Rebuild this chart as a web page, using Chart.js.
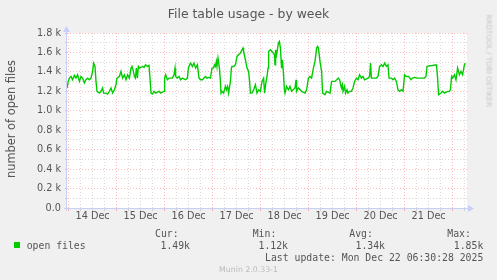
<!DOCTYPE html>
<html lang="en">
  <head>
    <meta charset="UTF-8" />
    <title>File table usage - by week</title>
    <script src="https://cdn.jsdelivr.net/npm/chart.js"></script>
    <style>
      body {
        margin: 0;
        background: #f0f0f0;
        font-family: "DejaVu Sans", sans-serif;
        color: #555;
      }
      .wrap {
        position: relative;
        width: 497px;
        height: 280px;
        overflow: hidden;
      }
      canvas {
        position: absolute;
        left: 0;
        top: 0;
      }
      .txt {
        position: absolute;
        white-space: pre;
      }
      .title {
        left: 0;
        width: 497px;
        top: 5.5px;
        text-align: center;
        font-size: 12.4px;
        line-height: 15px;
      }
      .ytitle {
        left: -48px;
        top: 112px;
        width: 118px;
        text-align: center;
        font-size: 11.4px;
        line-height: 14px;
        transform: rotate(-90deg);
      }
      .rrd {
        left: 443px;
        top: 56px;
        width: 92px;
        text-align: center;
        font-size: 7.2px;
        line-height: 9px;
        color: #c4c4c4;
        transform: rotate(90deg);
      }
      .mono {
        font-family: "DejaVu Sans Mono", monospace;
        font-size: 9.8px;
        line-height: 12px;
      }
      .val {
        width: 60px;
        text-align: right;
      }
      .swatch {
        position: absolute;
        left: 14px;
        top: 241.5px;
        width: 6px;
        height: 6px;
        background: #00cc00;
      }
      .munin {
        left: 0;
        width: 497px;
        top: 265px;
        text-align: center;
        font-size: 7.8px;
        line-height: 10px;
        color: #bbb;
      }
    </style>
  </head>
  <body>
    <div class="wrap">
      <canvas id="chart" width="497" height="280"></canvas>
      <div class="txt title">File table usage - by week</div>
      <div class="txt ytitle">number of open files</div>
      <div class="txt rrd">RRDTOOL / TOBI OETIKER</div>

      <div class="txt mono" style="left: 155px; top: 228px">Cur:</div>
      <div class="txt mono" style="left: 252.7px; top: 228px">Min:</div>
      <div class="txt mono" style="left: 349.3px; top: 228px">Avg:</div>
      <div class="txt mono" style="left: 447.3px; top: 228px">Max:</div>

      <div class="swatch"></div>
      <div class="txt mono" style="left: 26.7px; top: 239.6px">open files</div>
      <div class="txt mono val" style="left: 130px; top: 239.6px">1.49k</div>
      <div class="txt mono val" style="left: 228px; top: 239.6px">1.12k</div>
      <div class="txt mono val" style="left: 325px; top: 239.6px">1.34k</div>
      <div class="txt mono val" style="left: 423.3px; top: 239.6px">1.85k</div>

      <div class="txt mono" style="right: 13.7px; top: 252.1px">Last update: Mon Dec 22 06:30:28 2025</div>
      <div class="txt munin">Munin 2.0.33-1</div>
    </div>

    <script>
      // hours since 14 Dec 00:00
      const hours = [
        -0.8, -0.2, 0.4, 1.2, 2.0, 2.9, 3.7, 4.5, 5.4, 6.2, 7.0, 7.9, 8.7, 9.5,
        10.4, 11.2, 12.0, 12.5, 13.2, 13.7, 14.2, 15.4, 16.2, 17.0, 17.5, 18.7,
        19.5, 20.4, 21.2, 22.0, 22.9, 23.7, 24.2, 25.4, 26.2, 27.0, 27.9, 28.7,
        29.5, 30.4, 31.2, 31.7, 32.4, 32.9, 33.4, 33.9, 34.4, 34.9, 35.5, 36.9,
        37.7, 38.5, 39.4, 40.2, 40.7, 41.2, 41.9, 42.7, 43.5, 45.2, 46.0, 46.9,
        47.7, 48.0, 48.5, 49.4, 50.2, 51.9, 52.7, 53.2, 53.5, 54.4, 55.2, 56.0,
        56.9, 58.5, 59.4, 59.9, 60.5, 61.0, 61.9, 62.7, 63.5, 64.4, 65.2, 66.0,
        66.9, 68.4, 69.2, 70.0, 70.9, 71.7, 72.5, 72.9, 73.4, 73.9, 74.2, 74.7,
        75.4, 75.9, 76.2, 76.7, 77.5, 78.4, 78.9, 79.5, 80.0, 80.9, 81.4, 81.7,
        82.5, 83.4, 84.2, 85.0, 85.9, 86.7, 87.2, 87.5, 88.4, 89.2, 90.0, 90.5,
        90.9, 91.7, 92.5, 93.4, 94.2, 95.0, 95.9, 96.7, 97.5, 98.0, 98.5, 99.2,
        99.7, 100.0, 100.9, 101.7, 102.4, 102.9, 103.2, 103.5, 104.0, 104.9,
        105.4, 105.9, 106.5, 106.9, 107.4, 107.9, 108.2, 109.0, 109.9, 110.7,
        111.5, 113.2, 113.7, 114.0, 114.9, 116.5, 118.2, 119.0, 119.9, 120.7,
        121.5, 122.4, 123.2, 124.0, 124.5, 124.9, 125.7, 126.5, 127.0, 128.2,
        129.0, 130.7, 131.5, 133.2, 134.9, 135.5, 136.4, 136.9, 137.2, 138.0,
        138.5, 139.2, 139.7, 140.5, 141.4, 142.2, 143.0, 143.9, 144.7, 145.5,
        146.4, 147.2, 148.0, 149.7, 150.5, 151.0, 151.4, 152.2, 153.9, 154.7,
        155.5, 156.4, 157.2, 158.0, 158.9, 159.7, 160.2, 161.4, 162.2, 163.0,
        163.9, 164.7, 165.5, 166.4, 167.2, 168.0, 168.9, 170.0, 171.2, 172.0,
        172.9, 174.5, 176.2, 177.9, 178.7, 179.2, 180.4, 182.0, 183.7, 184.0,
        184.5, 185.0, 186.2, 187.0, 187.9, 189.5, 190.4, 190.9, 191.5, 192.0,
        192.9, 193.7, 194.5, 195.4, 196.2, 197.0, 197.9, 198.4,
      ];
      const openFiles = [
        1233, 1300, 1336, 1353, 1319, 1364, 1336, 1370, 1302, 1353, 1336, 1285,
        1319, 1336, 1319, 1336, 1405, 1490, 1456, 1302, 1200, 1182, 1200, 1234,
        1182, 1182, 1172, 1200, 1234, 1182, 1216, 1268, 1336, 1353, 1405, 1336,
        1370, 1319, 1370, 1336, 1439, 1456, 1405, 1353, 1336, 1440, 1336, 1456,
        1439, 1456, 1446, 1473, 1456, 1466, 1336, 1182, 1172, 1200, 1182, 1200,
        1182, 1192, 1200, 1336, 1370, 1319, 1336, 1336, 1370, 1439, 1353, 1336,
        1353, 1319, 1336, 1319, 1336, 1439, 1473, 1490, 1456, 1490, 1439, 1473,
        1336, 1319, 1319, 1353, 1336, 1343, 1336, 1439, 1439, 1473, 1456, 1508,
        1456, 1542, 1439, 1302, 1182, 1200, 1182, 1251, 1216, 1251, 1182, 1302,
        1439, 1456, 1456, 1473, 1559, 1576, 1593, 1627, 1645, 1610, 1525, 1439,
        1405, 1302, 1182, 1182, 1216, 1268, 1182, 1216, 1200, 1302, 1336, 1182,
        1268, 1353, 1439, 1610, 1627, 1610, 1593, 1576, 1473, 1627, 1576, 1696,
        1713, 1645, 1439, 1525, 1388, 1216, 1182, 1251, 1216, 1251, 1200, 1234,
        1319, 1200, 1234, 1200, 1182, 1216, 1336, 1353, 1336, 1439, 1508, 1645,
        1662, 1645, 1508, 1405, 1182, 1165, 1200, 1182, 1302, 1302, 1336, 1319,
        1234, 1268, 1200, 1251, 1182, 1216, 1182, 1200, 1200, 1234, 1302, 1336,
        1319, 1370, 1336, 1353, 1319, 1336, 1353, 1490, 1336, 1336, 1336, 1353,
        1456, 1473, 1456, 1490, 1456, 1473, 1336, 1336, 1319, 1336, 1302, 1216,
        1200, 1216, 1200, 1370, 1353, 1353, 1319, 1336, 1343, 1336, 1336, 1336,
        1353, 1456, 1463, 1466, 1473, 1456, 1336, 1165, 1182, 1200, 1182, 1200,
        1200, 1216, 1353, 1336, 1370, 1319, 1439, 1370, 1405, 1370, 1473, 1490,
      ];
      const firstDay = 14; // label of the first day, month is Dec
      const yMax = 1800;

      const majorGrid = "rgba(255, 70, 70, 0.38)";
      const minorGrid = "rgba(140, 140, 140, 0.32)";
      const axisColor = "#c8d0f8";

      const points = hours.map((h, i) => ({ x: h, y: openFiles[i] }));

      // white canvas behind the grid, axis lines with arrows on top
      const muninFrame = {
        id: "muninFrame",
        beforeDraw(chart) {
          const { ctx, chartArea: a } = chart;
          ctx.save();
          ctx.fillStyle = "#ffffff";
          ctx.fillRect(a.left, a.top, a.right - a.left, a.bottom - a.top);
          ctx.restore();
        },
        afterDraw(chart) {
          const { ctx, chartArea: a } = chart;
          const x0 = Math.round(a.left) - 0.5;
          const y0 = Math.round(chart.scales.y.getPixelForValue(0)) + 0.5;
          ctx.save();
          ctx.strokeStyle = axisColor;
          ctx.fillStyle = axisColor;
          ctx.lineWidth = 1;
          ctx.beginPath();
          ctx.moveTo(a.left - 3, y0);
          ctx.lineTo(a.right + 2, y0);
          ctx.moveTo(x0, a.bottom + 3);
          ctx.lineTo(x0, a.top - 2);
          ctx.stroke();
          ctx.beginPath();
          ctx.moveTo(a.right + 1, y0 - 3.5);
          ctx.lineTo(a.right + 7, y0);
          ctx.lineTo(a.right + 1, y0 + 3.5);
          ctx.closePath();
          ctx.fill();
          ctx.beginPath();
          ctx.moveTo(x0 - 3.5, a.top - 1);
          ctx.lineTo(x0, a.top - 7);
          ctx.lineTo(x0 + 3.5, a.top - 1);
          ctx.closePath();
          ctx.fill();
          ctx.restore();
        },
      };

      const tickFont = { family: "DejaVu Sans", size: 9.7 };

      new Chart(document.getElementById("chart").getContext("2d"), {
        type: "line",
        data: {
          datasets: [
            {
              label: "open files",
              data: points,
              borderColor: "#00cc00",
              borderWidth: 1.4,
              pointRadius: 0,
              tension: 0,
              fill: false,
            },
          ],
        },
        options: {
          responsive: false,
          animation: false,
          devicePixelRatio: 1,
          layout: { padding: { left: 0, top: 33, right: 30, bottom: 52 } },
          plugins: {
            legend: { display: false },
            title: { display: false },
            tooltip: { enabled: false },
          },
          scales: {
            x: {
              type: "linear",
              min: -0.8,
              max: 199.2,
              afterFit: (s) => {
                s.height = 20;
              },
              border: { display: false, dash: [1, 2] },
              grid: {
                color: (c) => (c.tick.value % 24 === 0 ? majorGrid : minorGrid),
                tickLength: 3,
              },
              ticks: {
                stepSize: 6,
                includeBounds: false,
                autoSkip: false,
                maxRotation: 0,
                padding: 0,
                color: "#555",
                font: tickFont,
                callback: (v) =>
                  v % 24 === 12 ? firstDay + (v - 12) / 24 + " Dec" : "",
              },
            },
            y: {
              min: 0,
              max: yMax,
              afterFit: (s) => {
                s.width = 67;
              },
              border: { display: false, dash: [1, 2] },
              grid: {
                color: (c) =>
                  c.tick.value % 200 === 0 ? majorGrid : minorGrid,
                tickLength: 2,
              },
              ticks: {
                stepSize: 100,
                autoSkip: false,
                padding: 4,
                color: "#555",
                font: tickFont,
                callback: (v) => {
                  if (v % 200 !== 0) return "";
                  return v === 0 ? "0.0" : (v / 1000).toFixed(1) + " k";
                },
              },
            },
          },
        },
        plugins: [muninFrame],
      });
    </script>
  </body>
</html>
